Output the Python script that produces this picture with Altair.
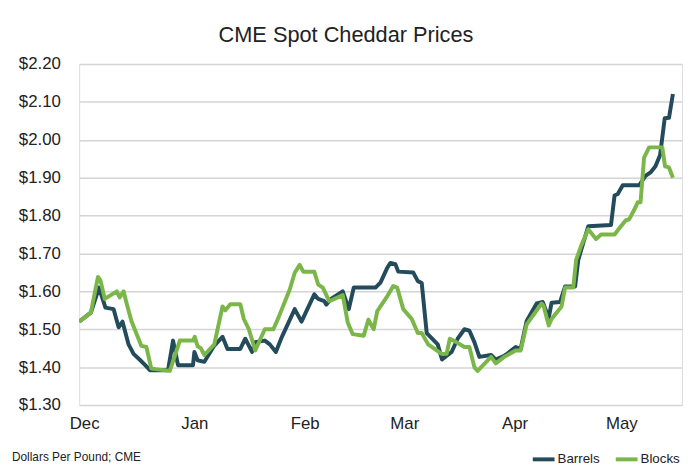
import altair as alt
import pandas as pd

# day offsets from Dec 1 and prices
barrels_day = [-1.4, 1.9, 4.2, 6.0, 8.3, 9.7, 10.8, 12.5, 13.9, 15.8, 17.1, 18.5, 23.6, 25.0, 26.4,
               30.6, 31.0, 31.9, 33.8, 36.6, 38.9, 40.3, 43.9, 45.3, 47.2, 48.1, 50.8, 52.2, 53.9,
               55.6, 59.2, 61.1, 64.7, 65.8, 67.5, 68.1, 69.4, 72.7, 74.4, 75.8, 81.9, 83.3, 85.2,
               86.1, 87.5, 88.3, 92.5, 93.8, 94.9, 96.3, 99.4, 100.6, 103.3, 105.0, 106.9, 108.3,
               109.7, 111.1, 114.4, 115.7, 118.1, 118.9, 121.3, 122.7, 124.4, 127.2, 128.9, 130.6,
               131.4, 133.8, 135.2, 138.0, 138.9, 141.7, 148.1, 149.1, 150.0, 151.4, 156.0, 157.8,
               159.2, 160.6, 161.9, 163.2, 164.4, 165.5]
barrels_val = [1.52, 1.544, 1.61, 1.557, 1.553, 1.505, 1.52, 1.46, 1.435, 1.418, 1.406, 1.392, 1.392,
               1.47, 1.405, 1.405, 1.44, 1.418, 1.414, 1.457, 1.48, 1.448, 1.448, 1.475, 1.44, 1.466,
               1.47, 1.46, 1.44, 1.48, 1.553, 1.52, 1.592, 1.58, 1.574, 1.565, 1.58, 1.60, 1.553,
               1.61, 1.61, 1.623, 1.662, 1.675, 1.672, 1.652, 1.65, 1.627, 1.622, 1.49, 1.46, 1.42,
               1.44, 1.475, 1.50, 1.496, 1.466, 1.427, 1.432, 1.42, 1.43, 1.435, 1.453, 1.448, 1.522,
               1.568, 1.572, 1.53, 1.57, 1.572, 1.613, 1.613, 1.683, 1.772, 1.775, 1.853, 1.857,
               1.88, 1.88, 1.905, 1.914, 1.93, 1.96, 2.057, 2.058, 2.121]

blocks_day = [-1.4, 1.9, 3.9, 4.6, 5.8, 9.2, 10.0, 11.1, 11.9, 13.3, 16.1, 17.5, 18.9, 24.1, 26.9,
              30.6, 31.1, 31.9, 32.8, 33.8, 36.6, 38.9, 39.7, 41.1, 43.9, 44.9, 46.3, 48.1, 50.8,
              53.2, 54.6, 57.8, 59.2, 60.6, 61.6, 64.7, 65.8, 67.1, 68.9, 72.7, 74.1, 75.5, 78.6,
              79.9, 81.4, 82.4, 85.2, 86.9, 88.0, 89.7, 92.1, 93.8, 94.9, 96.7, 100.5, 101.9,
              102.8, 104.6, 106.9, 108.3, 109.7, 110.6, 114.4, 115.7, 118.1, 121.3, 122.7, 124.4,
              128.6, 129.2, 130.6, 131.4, 134.2, 135.2, 137.5, 138.3, 139.7, 141.7, 143.9, 145.3,
              149.1, 150.5, 152.2, 153.2, 155.0, 155.6, 156.4, 157.4, 158.8, 162.5, 163.3, 164.4,
              165.5]
blocks_val = [1.52, 1.544, 1.638, 1.629, 1.58, 1.60, 1.584, 1.60, 1.57, 1.522, 1.456, 1.453, 1.396,
              1.39, 1.47, 1.47, 1.48, 1.455, 1.45, 1.432, 1.46, 1.56, 1.55, 1.566, 1.566, 1.527,
              1.50, 1.444, 1.50, 1.50, 1.53, 1.605, 1.649, 1.67, 1.652, 1.652, 1.618, 1.61, 1.574,
              1.59, 1.518, 1.487, 1.483, 1.525, 1.50, 1.548, 1.587, 1.614, 1.61, 1.553, 1.527,
              1.49, 1.49, 1.46, 1.435, 1.435, 1.475, 1.466, 1.453, 1.453, 1.40, 1.39, 1.427, 1.41,
              1.427, 1.444, 1.444, 1.513, 1.568, 1.56, 1.51, 1.527, 1.56, 1.61, 1.61, 1.683, 1.72,
              1.764, 1.738, 1.75, 1.75, 1.767, 1.787, 1.79, 1.822, 1.835, 1.835, 1.953, 1.98, 1.98,
              1.93, 1.927, 1.90]

month_starts = [0, 31, 62, 90, 121, 151]
month_labels = ["Dec", "Jan", "Feb", "Mar", "Apr", "May"]
series_names = ["Barrels", "Blocks"]
series_colors = ["#234B5B", "#7AB648"]

df = pd.concat([
    pd.DataFrame({"day": barrels_day, "price": barrels_val, "series": "Barrels", "order": range(len(barrels_day))}),
    pd.DataFrame({"day": blocks_day, "price": blocks_val, "series": "Blocks", "order": range(len(blocks_day))}),
])

label_map = "{" + ",".join(f"'{d}':'{m}'" for d, m in zip(month_starts, month_labels)) + "}"

W, H = 610, 345
FONT = "Liberation Sans"

lines = alt.Chart(df).mark_line(strokeWidth=4, strokeJoin="round", clip=True).encode(
    x=alt.X("day:Q", scale=alt.Scale(domain=[-1.39, 168.06], nice=False, zero=False),
            axis=alt.Axis(values=month_starts, labelExpr=f"{label_map}[datum.value]",
                          grid=False, ticks=False, domain=False, labelFontSize=17,
                          labelColor="#222", labelPadding=11, labelFont=FONT),
            title=None),
    y=alt.Y("price:Q", scale=alt.Scale(domain=[1.30, 2.20], nice=False, zero=False),
            axis=alt.Axis(values=[1.3 + 0.1 * i for i in range(10)], format="$.2f",
                          grid=True, gridColor="#d4d4d4", gridWidth=1.5, ticks=False,
                          domain=False, labelFontSize=17, labelColor="#222", labelPadding=19,
                          labelFont=FONT),
            title=None),
    color=alt.Color("series:N", scale=alt.Scale(domain=series_names, range=series_colors),
                    legend=alt.Legend(title=None, orient="none", legendX=457, legendY=387,
                                      direction="horizontal", symbolType="stroke",
                                      symbolStrokeWidth=4, symbolSize=484, labelFontSize=13.5,
                                      labelFont=FONT, labelColor="#222", columnPadding=8,
                                      labelOffset=1, padding=0)),
    order="order:Q",
)

title = alt.Chart(pd.DataFrame({"t": ["CME Spot Cheddar Prices"]})).mark_text(
    fontSize=22, font=FONT, color="#222", align="center", baseline="middle"
).encode(text="t:N", x=alt.value(270), y=alt.value(-29))

footer = alt.Chart(pd.DataFrame({"t": ["Dollars Per Pound; CME"]})).mark_text(
    fontSize=12, font=FONT, color="#222", align="left", baseline="middle"
).encode(text="t:N", x=alt.value(-68), y=alt.value(398))

border = alt.Chart(pd.DataFrame({"a": [0]})).mark_rule(color="#c8c8c8", strokeWidth=2).encode(
    x=alt.value(-77), y=alt.value(-70), y2=alt.value(410))

chart = alt.layer(lines, title, footer, border).properties(
    width=W, height=H,
    autosize=alt.AutoSizeParams(type="none"),
    padding={"left": 72, "top": 54, "right": 1, "bottom": 58},
).configure_view(stroke=None).configure(background="white")

chart.save("out.html", embed_options={"renderer": "svg", "actions": False})
